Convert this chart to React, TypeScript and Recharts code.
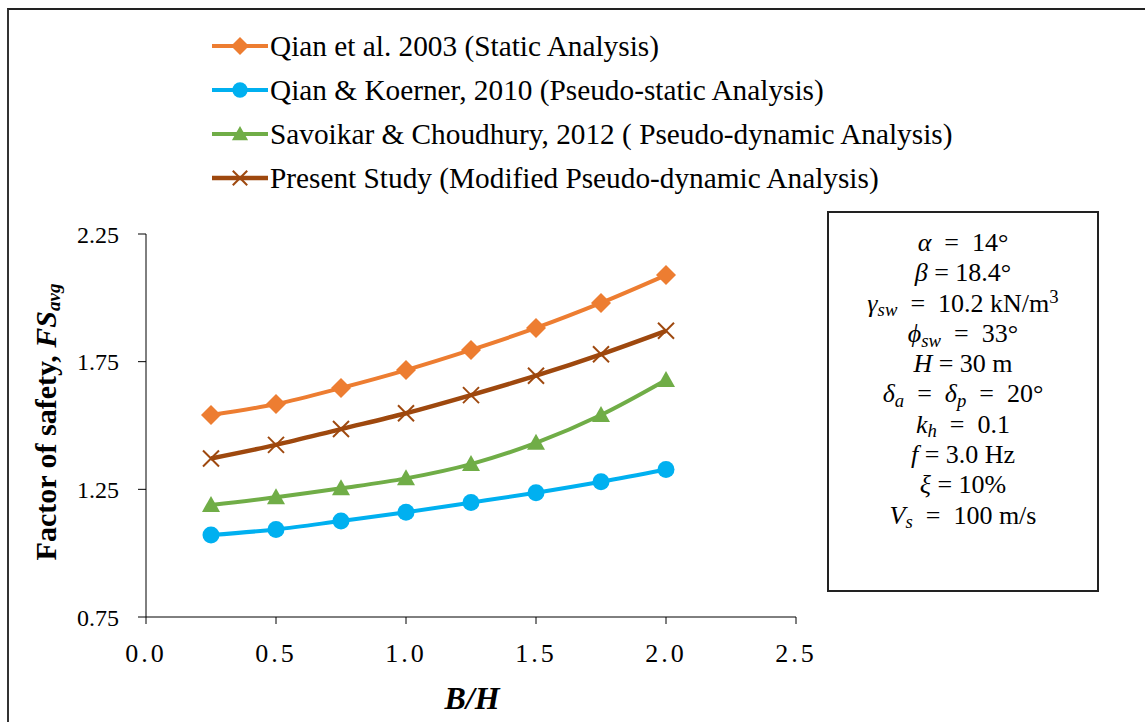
import React from 'react';
import { LineChart, Line, XAxis, YAxis, Label } from 'recharts';

// B/H ratios
const ratios = [0.25, 0.5, 0.75, 1.0, 1.25, 1.5, 1.75, 2.0];

// average factor of safety for each approach
const qianStatic = [1.541, 1.584, 1.647, 1.717, 1.796, 1.882, 1.98, 2.089];
const qianKoerner = [1.071, 1.093, 1.126, 1.16, 1.198, 1.237, 1.28, 1.328];
const savoikar = [1.189, 1.219, 1.254, 1.293, 1.349, 1.432, 1.541, 1.678];
const presentStudy = [1.371, 1.424, 1.486, 1.548, 1.619, 1.695, 1.779, 1.871];

const xTicks = [0, 0.5, 1.0, 1.5, 2.0, 2.5];
const yTicks = [0.75, 1.25, 1.75, 2.25];

const serif = "'Times New Roman', 'Liberation Serif', serif";

type Shape = 'diamond' | 'circle' | 'triangle' | 'cross';

const series: { key: string; name: string; color: string; shape: Shape; width: number }[] = [
  { key: 'static', name: 'Qian et al. 2003 (Static Analysis)', color: '#ED7D31', shape: 'diamond', width: 4 },
  { key: 'pseudoStatic', name: 'Qian & Koerner, 2010 (Pseudo-static Analysis)', color: '#00B0F0', shape: 'circle', width: 4 },
  { key: 'pseudoDynamic', name: 'Savoikar & Choudhury, 2012 ( Pseudo-dynamic Analysis)', color: '#70AD47', shape: 'triangle', width: 4 },
  { key: 'modified', name: 'Present Study (Modified Pseudo-dynamic Analysis)', color: '#9E480E', shape: 'cross', width: 4.5 },
];

const data = ratios.map((r, i) => ({
  bh: r,
  static: qianStatic[i],
  pseudoStatic: qianKoerner[i],
  pseudoDynamic: savoikar[i],
  modified: presentStudy[i],
}));

const Marker = ({ shape, cx, cy, color, s = 1 }: { shape: Shape; cx: number; cy: number; color: string; s?: number }) => {
  if (shape === 'diamond') {
    const h = 10 * s;
    return <polygon points={`${cx},${cy - h} ${cx + h},${cy} ${cx},${cy + h} ${cx - h},${cy}`} fill={color} />;
  }
  if (shape === 'circle') return <circle cx={cx} cy={cy} r={8.5 * s} fill={color} />;
  if (shape === 'triangle') {
    const w = 9 * s;
    return <polygon points={`${cx},${cy - 9 * s} ${cx + w},${cy + 7 * s} ${cx - w},${cy + 7 * s}`} fill={color} />;
  }
  const d = 8 * s;
  return (
    <g stroke={color} strokeWidth={2}>
      <line x1={cx - d} y1={cy - d} x2={cx + d} y2={cy + d} />
      <line x1={cx - d} y1={cy + d} x2={cx + d} y2={cy - d} />
    </g>
  );
};

const SeriesLegend = () => (
  <div style={{ position: 'absolute', left: 211, top: 24, fontFamily: serif, fontSize: 29.3, color: '#000' }}>
    {series.map((s) => (
      <div key={s.key} style={{ display: 'flex', alignItems: 'center', height: 44 }}>
        <svg width={58} height={24} style={{ marginRight: 1 }}>
          <line x1={1} y1={12} x2={57} y2={12} stroke={s.color} strokeWidth={s.width} />
          <Marker shape={s.shape} cx={29} cy={12} color={s.color} s={0.9} />
        </svg>
        <span style={{ whiteSpace: 'nowrap' }}>{s.name}</span>
      </div>
    ))}
  </div>
);

const YTitle = () => (
  <text
    x={45}
    y={422}
    transform="rotate(-90 45 422)"
    textAnchor="middle"
    dominantBaseline="central"
    fontFamily={serif}
    fontSize={30}
    fontWeight="bold"
    fill="#000"
  >
    Factor of safety, <tspan fontStyle="italic">FS</tspan>
    <tspan fontStyle="italic" fontSize={19} dy={8}>avg</tspan>
  </text>
);

const XTitle = () => (
  <text x={472} y={709} textAnchor="middle" fontFamily={serif} fontSize={32} fontWeight="bold" fontStyle="italic" fill="#000">
    B/H
  </text>
);

const subStyle: React.CSSProperties = { fontSize: '0.72em', position: 'relative', top: '0.25em', fontStyle: 'italic', lineHeight: 0 };
const supStyle: React.CSSProperties = { fontSize: '0.72em', position: 'relative', top: '-0.45em', lineHeight: 0 };
const Sub = ({ children }: { children: React.ReactNode }) => <span style={subStyle}>{children}</span>;
const eq = '\u2002=\u2002';

const params: React.ReactNode[] = [
  <><i>α</i>{eq}14°</>,
  <><i>β</i> = 18.4°</>,
  <><i>γ</i><Sub>sw</Sub>{eq}10.2 kN/m<span style={supStyle}>3</span></>,
  <><i>ϕ</i><Sub>sw</Sub>{eq}33°</>,
  <><i>H</i> = 30 m</>,
  <><i>δ</i><Sub>a</Sub>{eq}<i>δ</i><Sub>p</Sub>{eq}20°</>,
  <><i>k</i><Sub>h</Sub>{eq}0.1</>,
  <><i>f</i> = 3.0 Hz</>,
  <><i>ξ</i> = 10%</>,
  <><i>V</i><Sub>s</Sub>{eq}100 m/s</>,
];

export default function App() {
  return (
    <div style={{ position: 'absolute', left: 0, top: 0, width: 1145, height: 722, overflow: 'hidden', background: '#fff' }}>
      <div
        style={{
          position: 'absolute',
          left: 7,
          top: 8,
          width: 1200,
          height: 800,
          borderTop: '2px solid #222',
          borderLeft: '2px solid #333',
        }}
      />
      <LineChart
        width={1145}
        height={722}
        data={data}
        margin={{ top: 234, right: 349, bottom: 45, left: 86 }}
        style={{ position: 'absolute', left: 0, top: 0 }}
      >
        <XAxis
          dataKey="bh"
          type="number"
          domain={[0, 2.5]}
          ticks={xTicks}
          tickFormatter={(v: number) => v.toFixed(1)}
          height={60}
          stroke="#000"
          tickSize={7}
          tickMargin={20}
          tick={{ fontFamily: serif, fontSize: 26, fill: '#000', letterSpacing: 3 }}
        >
          <Label content={<XTitle />} />
        </XAxis>
        <YAxis
          type="number"
          domain={[0.75, 2.25]}
          ticks={yTicks}
          tickFormatter={(v: number) => v.toFixed(2)}
          width={60}
          stroke="#000"
          tickSize={8}
          tickMargin={19}
          tick={{ fontFamily: serif, fontSize: 24, fill: '#000' }}
        >
          <Label content={<YTitle />} />
        </YAxis>
        {series.map((s) => (
          <Line
            key={s.key}
            dataKey={s.key}
            name={s.name}
            type="monotone"
            stroke={s.color}
            strokeWidth={s.width}
            isAnimationActive={false}
            dot={(p: any) => <Marker key={p.index} shape={s.shape} cx={p.cx} cy={p.cy} color={s.color} />}
          />
        ))}
      </LineChart>
      <SeriesLegend />
      <div
        style={{
          position: 'absolute',
          left: 827,
          top: 211,
          width: 272,
          height: 381,
          border: '2px solid #222',
          fontFamily: serif,
          fontSize: 26,
          textAlign: 'center',
          paddingTop: 15,
          boxSizing: 'border-box',
          color: '#000',
        }}
      >
        {params.map((p, i) => (
          <div key={i} style={{ height: 30.3, lineHeight: '30px', whiteSpace: 'nowrap' }}>
            {p}
          </div>
        ))}
      </div>
    </div>
  );
}
